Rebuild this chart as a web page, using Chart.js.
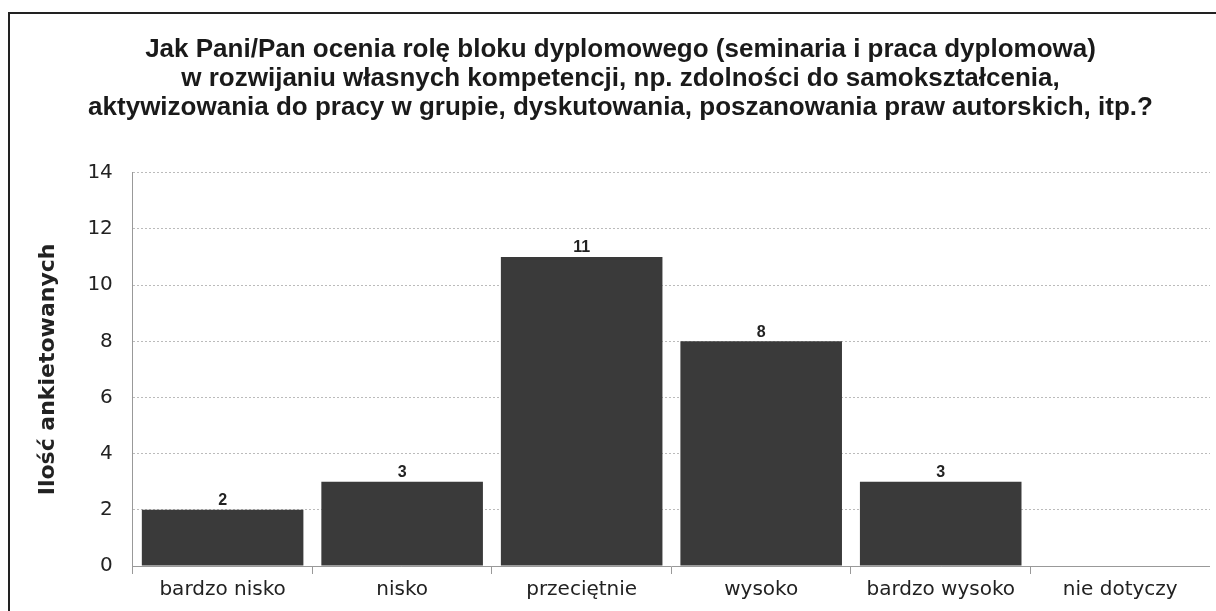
<!DOCTYPE html>
<html>
<head>
<meta charset="utf-8">
<script src="https://cdn.jsdelivr.net/npm/chart.js@4.4.1/dist/chart.umd.min.js"></script>
<style>
    html, body { margin: 0; padding: 0; background: #fff; }
    #wrap {
        position: absolute;
        left: 8px;
        top: 12px;
        width: 1216px;
        height: 610px;
        border-left: 2px solid #222;
        border-top: 2px solid #222;
    }
    #holder { position: absolute; left: 0; top: 0; width: 1200px; height: 592px; }
</style>
</head>
<body>
<div id="wrap"><div id="holder"><canvas id="myChart"></canvas></div></div>
<script>
const categories = ['bardzo nisko', 'nisko', 'przeciętnie', 'wysoko', 'bardzo wysoko', 'nie dotyczy'];
const counts = [2, 3, 11, 8, 3, 0];
const titleLines = [
    'Jak Pani/Pan ocenia rolę bloku dyplomowego (seminaria i praca dyplomowa)',
    'w rozwijaniu własnych kompetencji, np. zdolności do samokształcenia,',
    'aktywizowania do pracy w grupie, dyskutowania, poszanowania praw autorskich, itp.?'
];
const yTitle = 'Ilość ankietowanych';

const narrow = '"Liberation Sans Narrow", "Arial Narrow", "Liberation Sans", sans-serif';
const sans = '"DejaVu Sans", Verdana, sans-serif';

// numbers above bars
const valueLabels = {
    id: 'valueLabels',
    afterDatasetsDraw(chart) {
        const { ctx } = chart;
        const meta = chart.getDatasetMeta(0);
        ctx.save();
        ctx.font = 'bold 16px ' + narrow;
        ctx.fillStyle = '#222';
        ctx.textAlign = 'center';
        ctx.textBaseline = 'bottom';
        meta.data.forEach((bar, i) => {
            if (counts[i] > 0) ctx.fillText(counts[i], bar.x, bar.y - 1);
        });
        ctx.restore();
    }
};

const ctx = document.getElementById('myChart');
const myChart = new Chart(ctx, { // eslint-disable-line
    type: 'bar',
    data: {
        labels: categories,
        datasets: [{
            data: counts,
            backgroundColor: '#3a3a3a',
            borderWidth: 0,
            barPercentage: 1,
            categoryPercentage: 0.9
        }]
    },
    options: {
        responsive: true,
        maintainAspectRatio: false,
        animation: false,
        layout: { padding: { top: 22, right: 0, bottom: 0, left: 21 } },
        plugins: {
            legend: { display: false },
            tooltip: { enabled: false },
            title: {
                display: true,
                text: titleLines,
                color: '#1a1a1a',
                font: { family: narrow, size: 26, weight: 'bold', lineHeight: 1.1 },
                padding: { top: 0, bottom: 51 }
            }
        },
        scales: {
            x: {
                grid: { drawOnChartArea: false, drawTicks: true, tickLength: 8, color: '#999', offset: true },
                border: { color: '#999' },
                ticks: { color: '#222', font: { family: sans, size: 20 }, padding: 4 }
            },
            y: {
                min: 0,
                max: 14,
                ticks: { stepSize: 2, color: '#222', font: { family: sans, size: 20 }, padding: 20 },
                grid: { color: '#bbb', drawTicks: false },
                border: { color: '#999', dash: [2, 2] },
                title: {
                    display: true,
                    text: yTitle,
                    color: '#222',
                    font: { family: sans, size: 22, weight: 'bold' },
                    padding: { bottom: 6 }
                }
            }
        }
    },
    plugins: [valueLabels]
});
</script>
</body>
</html>
